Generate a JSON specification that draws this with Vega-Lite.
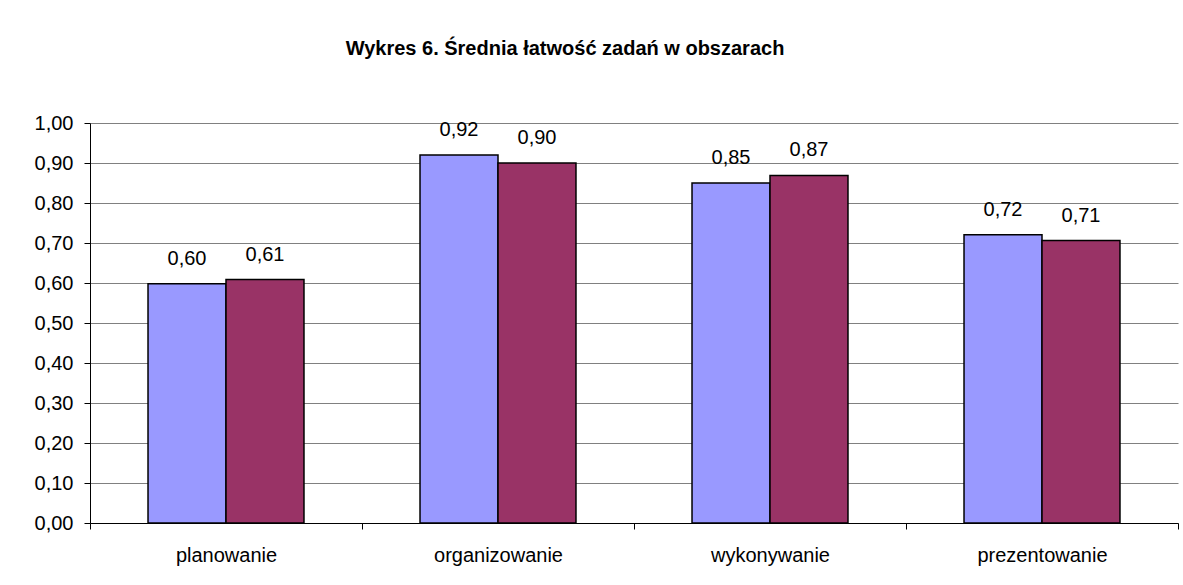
{
  "$schema": "https://vega.github.io/schema/vega-lite/v6.json",
  "width": 1088,
  "height": 400,
  "autosize": "none",
  "padding": {"left": 90, "top": 123, "right": 5, "bottom": 62},
  "background": "white",
  "config": {
    "locale": {"number": {"decimal": ",", "thousands": " ", "grouping": [3], "currency": ["", " zł"]}},
    "font": "Liberation Sans",
    "view": {"stroke": null}
  },
  "title": {
    "text": "Wykres 6. Średnia łatwość zadań w obszarach",
    "font": "Liberation Sans",
    "fontSize": 20,
    "fontWeight": "bold",
    "color": "black",
    "anchor": "middle",
    "baseline": "alphabetic",
    "offset": 38,
    "dx": -69
  },
  "data": {
    "values": [
      {"obszar": "planowanie", "seria": "seria 1", "wartosc": 0.598},
      {"obszar": "planowanie", "seria": "seria 2", "wartosc": 0.6085},
      {"obszar": "organizowanie", "seria": "seria 1", "wartosc": 0.92},
      {"obszar": "organizowanie", "seria": "seria 2", "wartosc": 0.90},
      {"obszar": "wykonywanie", "seria": "seria 1", "wartosc": 0.85},
      {"obszar": "wykonywanie", "seria": "seria 2", "wartosc": 0.869},
      {"obszar": "prezentowanie", "seria": "seria 1", "wartosc": 0.7205},
      {"obszar": "prezentowanie", "seria": "seria 2", "wartosc": 0.706}
    ]
  },
  "encoding": {
    "x": {
      "field": "obszar",
      "type": "nominal",
      "sort": null,
      "scale": {"paddingInner": 0, "paddingOuter": 0},
      "axis": {
        "title": null,
        "labelAngle": 0,
        "tickBand": "extent",
        "labelFont": "Liberation Sans",
        "labelFontSize": 20,
        "labelColor": "black",
        "domainColor": "black",
        "tickColor": "black",
        "tickSize": 6,
        "labelPadding": 16,
        "grid": false
      }
    },
    "xOffset": {
      "field": "seria",
      "type": "nominal",
      "scale": {"paddingInner": 0, "paddingOuter": 0.744}
    },
    "y": {
      "field": "wartosc",
      "type": "quantitative",
      "scale": {"domain": [0, 1], "nice": false},
      "axis": {
        "title": null,
        "format": ".2f",
        "values": [0, 0.1, 0.2, 0.3, 0.4, 0.5, 0.6, 0.7, 0.8, 0.9, 1.0],
        "labelFont": "Liberation Sans",
        "labelFontSize": 20,
        "labelColor": "black",
        "domainColor": "black",
        "tickColor": "black",
        "tickSize": 6,
        "labelPadding": 11,
        "grid": true,
        "gridColor": "#808080",
        "gridWidth": 1
      }
    }
  },
  "layer": [
    {
      "mark": {"type": "bar", "stroke": "black", "strokeWidth": 1.5},
      "encoding": {
        "color": {
          "field": "seria",
          "type": "nominal",
          "scale": {"range": ["#9999FF", "#993366"]},
          "legend": null
        }
      }
    },
    {
      "mark": {"type": "text", "baseline": "alphabetic", "dy": -19, "fontSize": 20, "font": "Liberation Sans", "color": "black"},
      "encoding": {
        "text": {"field": "wartosc", "type": "quantitative", "format": ".2f"}
      }
    }
  ]
}
